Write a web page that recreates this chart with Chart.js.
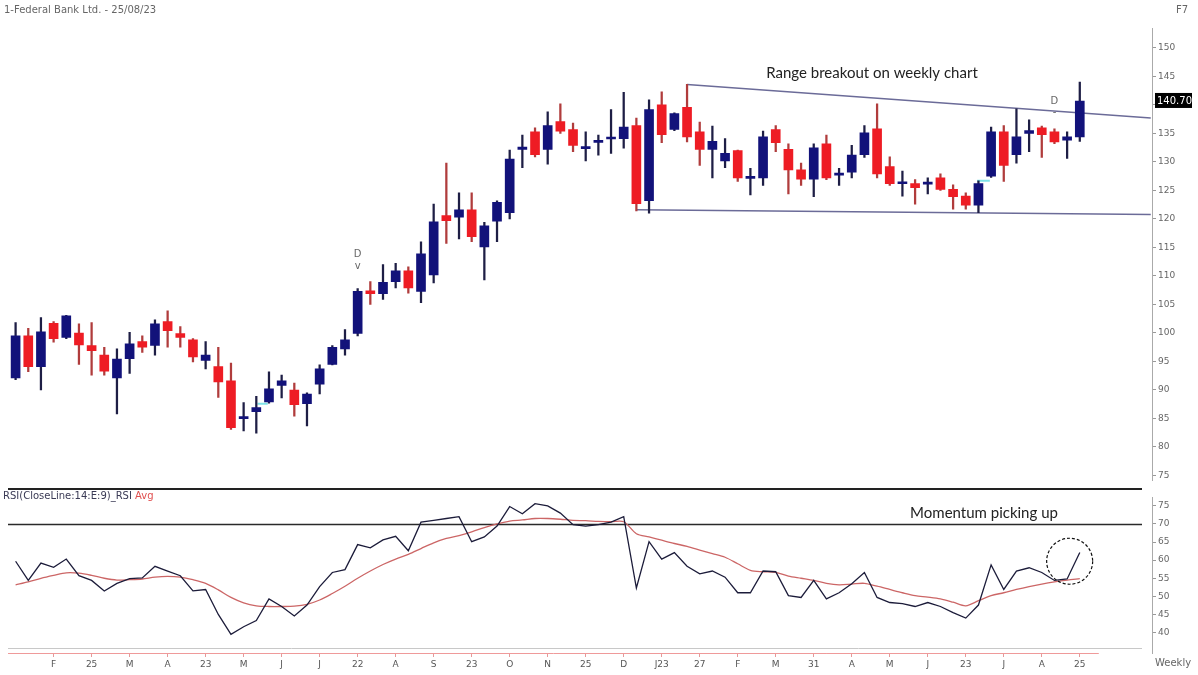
<!DOCTYPE html>
<html><head><meta charset="utf-8">
<script src="https://cdn.jsdelivr.net/npm/chart.js@4.4.0/dist/chart.umd.min.js"></script>
<style>
html,body{margin:0;padding:0;background:#fff;width:1198px;height:675px;overflow:hidden;}
#pc{position:absolute;left:0;top:0;}
#rc{position:absolute;left:0;top:488px;}
</style></head><body>
<canvas id="pc" width="1198" height="488"></canvas>
<canvas id="rc" width="1198" height="187"></canvas>
<script>
// ---------- DATA ----------
const opens  = [92.1,99.5,94.1,101.7,99.2,100.0,97.8,96.1,92.1,95.5,98.5,97.8,102.0,99.9,98.8,95.2,94.1,91.6,85.0,86.2,87.9,90.8,90.0,87.6,91.0,94.5,97.2,99.9,107.4,106.9,109.0,110.9,107.3,110.2,120.6,120.3,121.6,115.1,119.6,121.1,132.2,135.3,132.2,137.1,135.7,132.4,133.5,134.1,134.1,136.4,123.2,140.0,135.7,139.6,135.3,132.2,130.2,132.0,127.2,127.2,135.7,132.2,128.6,127.0,133.2,127.8,128.2,131.3,135.8,129.2,126.3,126.2,126.2,127.2,125.2,124.0,122.4,127.5,135.3,131.3,135.0,136.0,135.3,133.8,134.4];
const highs  = [101.8,100.8,102.7,102.0,103.1,101.6,101.8,97.5,97.2,100.1,99.5,102.3,103.9,101.1,99.0,98.5,97.5,94.7,87.8,88.9,93.2,92.6,91.2,89.5,94.4,97.8,100.6,107.8,109.0,112.0,112.2,111.6,116.0,122.6,129.8,124.6,124.6,119.4,123.2,132.1,134.7,136.0,138.8,140.2,136.8,135.3,134.7,139.2,142.2,137.7,140.9,142.3,138.6,143.6,137.0,136.3,134.1,132.1,128.9,135.4,136.4,133.2,129.8,133.2,134.7,128.9,132.9,136.4,140.2,130.9,128.4,126.9,127.2,127.9,126.0,124.6,126.7,136.1,136.4,139.3,137.4,136.3,135.8,135.3,144.0];
const lows   = [91.8,93.2,90.0,98.4,99.0,94.5,92.6,92.6,85.8,92.9,96.6,96.1,97.5,97.5,94.9,93.7,88.7,83.1,82.8,82.4,87.7,88.6,85.4,83.7,89.3,94.4,96.1,99.5,105.0,105.9,107.9,107.0,105.3,108.8,115.7,116.5,116.0,109.3,116.0,120.0,129.0,130.9,129.6,135.0,131.8,130.2,131.2,131.5,132.4,121.4,121.0,133.4,135.5,133.5,129.4,127.2,129.0,126.6,124.2,125.9,131.8,124.4,125.9,123.9,126.9,125.9,127.2,130.8,127.2,125.9,124.0,122.6,124.4,125.0,121.7,121.7,121.1,127.3,126.6,129.8,131.8,130.8,133.2,130.6,133.6];
const closes = [99.5,94.1,100.2,99.0,103.0,97.9,96.9,93.3,95.4,98.1,97.5,101.6,100.4,99.2,95.8,96.1,91.4,83.4,85.3,86.9,90.2,91.6,87.4,89.3,93.7,97.5,98.8,107.3,106.9,108.9,110.9,107.9,113.9,119.5,119.7,121.6,116.9,118.8,122.9,130.5,132.6,131.3,136.4,135.4,132.9,132.6,133.7,134.3,136.1,122.7,139.2,134.8,138.5,134.4,132.2,133.6,131.5,127.2,127.4,134.4,133.4,128.6,127.0,132.5,127.2,127.9,131.2,135.1,127.9,126.2,126.4,125.5,126.4,125.2,123.9,122.4,126.2,135.3,129.4,134.4,135.5,134.8,133.5,134.4,140.7];

const rsiValues = [59.7,54.4,59.2,58.0,60.3,55.7,54.4,51.5,53.6,54.9,55.1,58.3,57.0,55.7,51.5,51.9,45.0,39.5,41.6,43.3,49.3,47.2,44.6,47.6,52.7,56.6,57.4,64.3,63.4,65.6,66.6,62.6,70.5,71.0,71.5,72.0,65.1,66.4,69.4,74.8,72.8,75.6,75.0,73.0,69.8,69.4,69.8,70.5,72.0,52.3,65.1,60.3,62.1,58.3,56.2,57.0,55.3,51.0,51.0,57.0,56.8,50.2,49.7,54.4,49.3,51.0,53.5,56.6,49.7,48.3,48.0,47.2,48.3,47.2,45.5,44.0,47.6,58.7,51.9,57.0,57.9,56.6,54.4,54.8,62.1];
const rsiAvg    = [53.2,54.0,55.0,55.8,56.5,56.4,55.8,55.0,54.5,54.6,54.8,55.3,55.5,55.3,54.6,53.6,51.8,49.7,48.2,47.4,47.2,47.2,47.3,47.8,49.0,50.8,52.8,55.0,57.0,58.8,60.3,61.6,63.2,64.8,66.0,66.8,67.8,69.0,70.0,70.8,71.1,71.5,71.5,71.3,71.0,70.9,70.7,70.6,70.6,67.3,66.4,65.5,64.6,63.8,62.8,61.8,60.8,59.0,57.2,56.8,56.6,55.6,55.0,54.4,53.6,53.2,53.4,53.6,52.8,51.9,51.0,50.2,49.8,49.3,48.4,47.4,48.8,50.2,51.0,51.9,52.7,53.4,54.0,54.5,54.9];

const tickIdx    = [3,6,9,12,15,18,21,24,27,30,33,36,39,42,45,48,51,54,57,60,63,66,69,72,75,78,81,84];
const tickLabels = ['F','25','M','A','23','M','J','J','22','A','S','23','O','N','25','D','J23','27','F','M','31','A','M','J','23','J','A','25'];
const priceTickValues = [75,80,85,90,95,100,105,110,115,120,125,130,135,140,145,150];
const rsiTickValues = [40,45,50,55,60,65,70,75];

const upperTrend = [{x:53, y:143.6},{x:89.6, y:137.7}];
const lowerTrend = [{x:49, y:121.6},{x:89.6, y:120.8}];
const cyanMarkA = [{x:19.1, y:87.6},{x:19.9, y:87.6}];
const cyanMarkB = [{x:75.9, y:126.7},{x:76.9, y:126.7}];
const rsiLevel = 70;

const titleText = '1-Federal Bank Ltd. - 25/08/23';
const priceNote = 'Range breakout on weekly chart';
const rsiNote = 'Momentum picking up';
const rsiLegendA = 'RSI(CloseLine:14:E:9)_RSI';
const rsiLegendB = ' Avg';

// ---------- STYLE ----------
const UP = '#12127a', DOWN = '#ee1c24';
const UP_WICK = '#1e1e45', DOWN_WICK = '#b03c3c';
const X_MIN = -0.6, X_MAX = 89.7;
const tickFont = {family:'DejaVu Sans', size:9};

const isUp = closes.map((c,i)=> c >= opens[i]);
const wickData = highs.map((h,i)=>({x:i, y:[lows[i], h]}));
const bodyData = opens.map((o,i)=>{
  let lo = Math.min(o, closes[i]), hi = Math.max(o, closes[i]);
  if (hi - lo < 0.35) { const m = (hi+lo)/2; lo = m-0.18; hi = m+0.18; }
  return {x:i, y:[lo, hi]};
});

const pricePlugin = {
  id:'priceExtras',
  afterDraw(chart){
    const ctx = chart.ctx, xs = chart.scales.x, ys = chart.scales.y;
    ctx.save();
    ctx.textBaseline = 'middle';
    ctx.fillStyle = '#666'; ctx.font = '10px "DejaVu Sans"'; ctx.textAlign = 'left';
    ctx.fillText(titleText, 4, 10);
    ctx.fillText('F7', 1176, 10);
    ctx.fillStyle = '#222'; ctx.font = '15px Lato'; ctx.textAlign = 'center';
    ctx.fillText(priceNote, 872, 73);
    ctx.fillStyle = '#666'; ctx.font = '10px "DejaVu Sans"';
    ctx.fillText('D', xs.getPixelForValue(27), ys.getPixelForValue(113.8));
    ctx.fillText('v', xs.getPixelForValue(27), ys.getPixelForValue(111.7));
    ctx.fillText('D', xs.getPixelForValue(82), ys.getPixelForValue(140.6));
    ctx.fillText('-', xs.getPixelForValue(82), ys.getPixelForValue(138.7));
    const last = closes[closes.length-1];
    const yp = ys.getPixelForValue(last);
    ctx.fillStyle = '#000'; ctx.fillRect(1155, yp-8, 37, 15);
    ctx.fillStyle = '#fff'; ctx.font = '10px "DejaVu Sans"'; ctx.textAlign = 'left';
    ctx.fillText(last.toFixed(2), 1157, yp);
    ctx.restore();
  }
};

new Chart(document.getElementById('pc'), {
  type:'bar',
  data:{ datasets:[
    { type:'bar', data: bodyData, backgroundColor: isUp.map(u=>u?UP:DOWN), barThickness: 9, grouped:false, order:0 },
    { type:'bar', data: wickData, backgroundColor: isUp.map(u=>u?UP_WICK:DOWN_WICK), barThickness: 1.6, grouped:false, order:1 },
    { type:'line', data: upperTrend, borderColor:'#6b6b98', borderWidth:1.5, pointRadius:0, order:2 },
    { type:'line', data: lowerTrend, borderColor:'#6b6b98', borderWidth:1.5, pointRadius:0, order:2 },
    { type:'line', data: cyanMarkA, borderColor:'#7fe3e8', borderWidth:2, pointRadius:0, order:3 },
    { type:'line', data: cyanMarkB, borderColor:'#7fe3e8', borderWidth:2, pointRadius:0, order:3 }
  ]},
  options:{
    responsive:false, animation:false,
    layout:{padding:{left:8, top:28, bottom:1, right:0}},
    plugins:{legend:{display:false}, tooltip:{enabled:false}},
    scales:{
      x:{type:'linear', min:X_MIN, max:X_MAX, display:false, offset:false},
      y:{position:'right', min:74.1, max:153.5, afterFit(s){ s.width = 46; },
         afterBuildTicks(s){ s.ticks = priceTickValues.map(v=>({value:v})); },
         grid:{drawOnChartArea:false, drawTicks:true, tickLength:4, color:'#999'},
         border:{display:true, color:'#aaa', width:1},
         ticks:{padding:2, color:'#666', font:tickFont}}
    }
  },
  plugins:[pricePlugin]
});

const rsiPlugin = {
  id:'rsiExtras',
  beforeDatasetsDraw(chart){
    const ctx = chart.ctx, a = chart.chartArea, ys = chart.scales.y;
    ctx.save();
    const y70 = Math.round(ys.getPixelForValue(rsiLevel)) + 0.5;
    ctx.strokeStyle = '#2a2a2a'; ctx.lineWidth = 1.5;
    ctx.beginPath(); ctx.moveTo(a.left, y70); ctx.lineTo(1142, y70); ctx.stroke();
    ctx.restore();
  },
  afterDraw(chart){
    const ctx = chart.ctx, a = chart.chartArea, xs = chart.scales.x, ys = chart.scales.y;
    ctx.save();
    ctx.fillStyle = '#222'; ctx.fillRect(a.left, 0, 1142 - a.left, 2);
    ctx.strokeStyle = '#c8c8c8'; ctx.lineWidth = 1;
    ctx.beginPath(); ctx.moveTo(a.left, a.bottom - 4.5); ctx.lineTo(1142, a.bottom - 4.5); ctx.stroke();
    ctx.strokeStyle = '#ef9a9a';
    ctx.beginPath(); ctx.moveTo(a.left, a.bottom + 0.5); ctx.lineTo(xs.getPixelForValue(85.5), a.bottom + 0.5); ctx.stroke();
    ctx.textBaseline = 'middle'; ctx.textAlign = 'left';
    ctx.font = '10px "DejaVu Sans"'; ctx.fillStyle = '#3a3a55';
    ctx.fillText(rsiLegendA, 3, 8);
    const w = ctx.measureText(rsiLegendA).width;
    ctx.fillStyle = '#e05050'; ctx.fillText(rsiLegendB, 3 + w, 8);
    ctx.fillStyle = '#222'; ctx.font = '15px Lato'; ctx.textAlign = 'center';
    ctx.fillText(rsiNote, 984, 25);
    ctx.strokeStyle = '#111'; ctx.lineWidth = 1.2; ctx.setLineDash([3,2]);
    ctx.beginPath();
    ctx.arc(xs.getPixelForValue(83.2), ys.getPixelForValue(59.7), 23, 0, Math.PI*2);
    ctx.stroke();
    ctx.setLineDash([]);
    ctx.fillStyle = '#666'; ctx.font = '10px "DejaVu Sans"'; ctx.textAlign = 'left';
    ctx.fillText('Weekly', 1155, 175);
    ctx.restore();
  }
};

new Chart(document.getElementById('rc'), {
  type:'line',
  data:{ datasets:[
    { data: rsiValues.map((v,i)=>({x:i, y:v})), borderColor:'#1c1c3a', borderWidth:1.3, pointRadius:0, tension:0 },
    { data: rsiAvg.map((v,i)=>({x:i, y:v})), borderColor:'#cc6666', borderWidth:1.3, pointRadius:0, tension:0.3 }
  ]},
  options:{
    responsive:false, animation:false,
    layout:{padding:{left:8, top:9, bottom:0, right:0}},
    plugins:{legend:{display:false}, tooltip:{enabled:false}},
    scales:{
      x:{type:'linear', min:X_MIN, max:X_MAX, offset:false,
         afterFit(s){ s.height = 22; },
         afterBuildTicks(s){ s.ticks = tickIdx.map(v=>({value:v})); },
         grid:{drawOnChartArea:false, drawTicks:true, tickLength:4, color:'#e59a9a'},
         border:{display:false},
         ticks:{autoSkip:false, maxRotation:0, padding:2, color:'#555', font:tickFont,
                callback:(v,i)=>tickLabels[i]}},
      y:{position:'right', min:34.36, max:77.44, afterFit(s){ s.width = 46; },
         afterBuildTicks(s){ s.ticks = rsiTickValues.map(v=>({value:v})); },
         grid:{drawOnChartArea:false, drawTicks:true, tickLength:4, color:'#999'},
         border:{display:true, color:'#aaa', width:1},
         ticks:{padding:2, color:'#666', font:tickFont}}
    }
  },
  plugins:[rsiPlugin]
});
</script>
</body></html>
